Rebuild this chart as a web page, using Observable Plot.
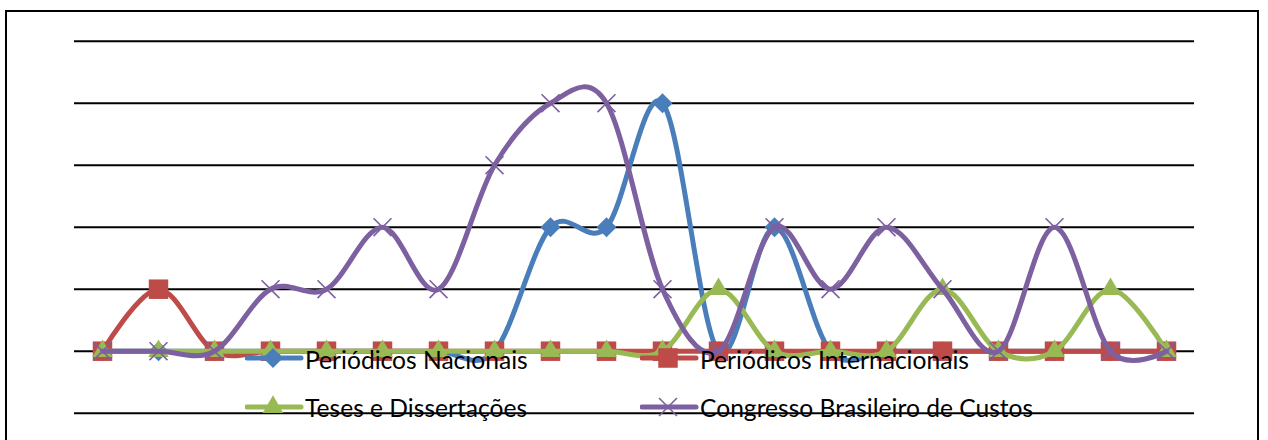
<!DOCTYPE html>
<html>
<head>
<meta charset="utf-8">
<script src="https://cdn.jsdelivr.net/npm/d3@7"></script>
<script src="https://cdn.jsdelivr.net/npm/@observablehq/plot@0.6"></script>
<style>
  html, body { margin: 0; padding: 0; background: #fff; overflow: hidden; }
  #wrap { position: relative; width: 1268px; height: 440px; overflow: hidden; }
  #frame { position: absolute; left: 5px; top: 10px; width: 1254px; height: 460px; border: 2.5px solid #000; box-sizing: border-box; pointer-events: none; }
  #chart { position: absolute; left: 0; top: 0; }
  .leg { position: absolute; display: flex; align-items: center; height: 30px; font-family: Lato, "Noto Sans", sans-serif; font-size: 24.6px; color: #000; white-space: nowrap; }
  .leg svg { display: block; }
  .leg span { position: relative; top: 1px; }
</style>
</head>
<body>
<div id="wrap">
  <div id="chart"></div>
  <div id="frame"></div>
</div>
<script>
// Data (20 points, category index 1..20)
const categories = d3.range(1, 21);
const seriesNames = ["Periódicos Nacionais", "Periódicos Internacionais", "Teses e Dissertações", "Congresso Brasileiro de Custos"];
const nacionais      = [0,0,0,0,0,0,0,0,2,2,4,0,2,0,0,0,0,0,0,0];
const internacionais = [0,1,0,0,0,0,0,0,0,0,0,0,0,0,0,0,0,0,0,0];
const teses          = [0,0,0,0,0,0,0,0,0,0,0,1,0,0,0,1,0,0,1,0];
const congresso      = [0,0,0,1,1,2,1,3,4,4,1,0,2,1,2,1,0,2,0,0];
const gridValues = [-1, 0, 1, 2, 3, 4, 5];

const seriesValues = [nacionais, internacionais, teses, congresso];
const colors = ["#4A7EBB", "#BE4B48", "#98B954", "#7D60A0"];
const symbols = ["diamond2", "square", "triangle", "times"];
const radii = [9, 11, 7.6, 8.2];

const rows = seriesValues.map(vals => categories.map((c, i) => ({x: c, y: vals[i]})));

const marks = [Plot.ruleY(gridValues, {stroke: "#000", strokeWidth: 2})];
rows.forEach((data, k) => {
  marks.push(Plot.line(data, {x: "x", y: "y", stroke: colors[k], strokeWidth: 5, curve: "cardinal", tension: 0, strokeLinecap: "round"}));
  if (symbols[k] === "times") {
    marks.push(Plot.dot(data, {x: "x", y: "y", symbol: "times", r: radii[k], stroke: colors[k], strokeWidth: 1.6, fill: "none"}));
  } else {
    marks.push(Plot.dot(data, {x: "x", y: "y", symbol: symbols[k], r: radii[k], fill: colors[k], stroke: "none"}));
  }
});

const plot = Plot.plot({
  width: 1268,
  height: 440,
  marginLeft: 74,
  marginRight: 74,
  marginTop: 40.7,
  marginBottom: 27.3,
  x: {domain: [0.5, 20.5], axis: null},
  y: {domain: [-1, 5], axis: null},
  style: {background: "transparent", overflow: "visible"},
  marks
});
document.getElementById("chart").appendChild(plot);

// Legend overlay
const wrap = document.getElementById("wrap");
const symMap = {diamond2: d3.symbolDiamond2, square: d3.symbolSquare, triangle: d3.symbolTriangle, times: d3.symbolTimes};
seriesNames.forEach((name, k) => {
  const col = k % 2, row = Math.floor(k / 2);
  const div = document.createElement("div");
  div.className = "leg";
  div.style.left = (245 + col * 395) + "px";
  div.style.top = (358 + row * 48.5 - 15) + "px";
  const svg = d3.create("svg").attr("width", 60).attr("height", 30);
  svg.append("line").attr("x1", 2).attr("x2", 56).attr("y1", 15).attr("y2", 15)
    .attr("stroke", colors[k]).attr("stroke-width", 5).attr("stroke-linecap", "round");
  const path = svg.append("path")
    .attr("transform", "translate(28,15)")
    .attr("d", d3.symbol(symMap[symbols[k]], Math.PI * radii[k] * radii[k])());
  if (symbols[k] === "times") path.attr("fill", "none").attr("stroke", colors[k]).attr("stroke-width", 1.6);
  else path.attr("fill", colors[k]);
  div.appendChild(svg.node());
  const span = document.createElement("span");
  span.textContent = name;
  div.appendChild(span);
  wrap.appendChild(div);
});
</script>
</body>
</html>
